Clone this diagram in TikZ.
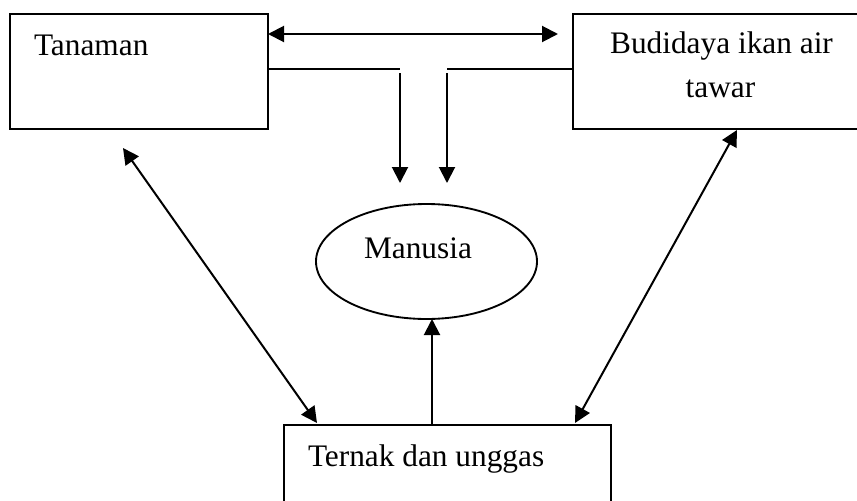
\documentclass[tikz,border=0pt]{standalone}
\usepackage{fontspec}
\setmainfont{Liberation Serif}
\usetikzlibrary{arrows.meta,shapes.geometric}
\begin{document}
\begin{tikzpicture}[x=0.75pt,y=-0.75pt,
  every node/.style={inner sep=0pt,outer sep=0pt},
  lbl/.style={font=\fontsize{23.5}{28}\selectfont},
  boxnode/.style={draw,line width=1.4pt,rectangle,anchor=north west},
  conn/.style={line width=1.5pt,-{Triangle[length=12pt,width=12pt]}},
  dconn/.style={line width=1.5pt,{Triangle[length=12pt,width=12pt]}-{Triangle[length=12pt,width=12pt]}},
  plain/.style={line width=1.5pt}]
\useasboundingbox (0,0) rectangle (857,500);
\clip (0,0) rectangle (857,500);
% boxes
\node[boxnode,minimum width=258*0.75pt,minimum height=115*0.75pt] (tan) at (10,14) {};
\node[boxnode,minimum width=300*0.75pt,minimum height=115*0.75pt] (bud) at (573,14) {};
\node[boxnode,minimum width=327*0.75pt,minimum height=100*0.75pt] (ter) at (284,425) {};
\node[draw,ellipse,line width=1.4pt,minimum width=221*0.75pt,minimum height=115*0.75pt] (man) at (426.5,261.5) {};
% labels
\node[lbl,anchor=base west] (tanlbl) at (34,55) {Tanaman};
\node[lbl,anchor=base] (budlbl1) at (721.5,53) {Budidaya ikan air};
\node[lbl,anchor=base] (budlbl2) at (720.5,97) {tawar};
\node[lbl,anchor=base west] (terlbl) at (308,466) {Ternak dan unggas};
\node[lbl,anchor=base] (manlbl) at (418,258) {Manusia};
% connector coordinates
\coordinate (topL) at (268,34);
\coordinate (topR) at (558,34);
\coordinate (tanT) at (268,69);
\coordinate (tanC) at (400,69);
\coordinate (tanD0) at (400,73);
\coordinate (tanD1) at (400,183);
\coordinate (budT) at (573,69);
\coordinate (budC) at (447,69);
\coordinate (budD0) at (447,73);
\coordinate (budD1) at (447,183);
\coordinate (tanS) at (123,148);
\coordinate (terNW) at (317,423);
\coordinate (budS) at (737,130);
\coordinate (terNE) at (575,423);
\coordinate (terN) at (432,425);
\coordinate (manS) at (432,319);
% connectors
\draw[dconn] (topL) -- (topR);
\draw[plain] (tanT) -- (tanC);
\draw[conn] (tanD0) -- (tanD1);
\draw[plain] (budT) -- (budC);
\draw[conn] (budD0) -- (budD1);
\draw[dconn] (tanS) -- (terNW);
\draw[dconn] (budS) -- (terNE);
\draw[conn] (terN) -- (manS);
\end{tikzpicture}
\end{document}
